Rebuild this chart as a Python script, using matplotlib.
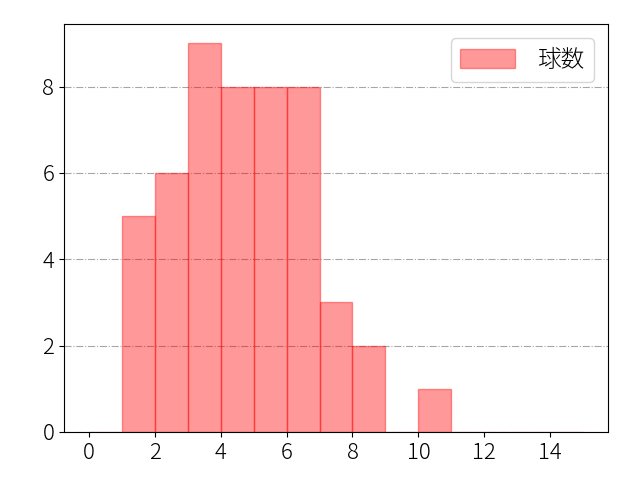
import matplotlib
matplotlib.use("Agg")
import matplotlib.pyplot as plt

plt.rcParams['font.family'] = ['Noto Sans CJK JP', 'DejaVu Sans']
plt.rcParams['font.size'] = 16
plt.rcParams['font.weight'] = 'light'

# pitch counts per bin, bins of width 1 from 0 to 15
bin_edges = list(range(0, 16))
counts = [0, 5, 6, 9, 8, 8, 8, 3, 2, 0, 1, 0, 0, 0, 0]
bin_lefts = bin_edges[:-1]

fig, ax = plt.subplots(figsize=(6.4, 4.8), dpi=100)
fig.subplots_adjust(left=0.1, right=0.95, bottom=0.1, top=0.95)
ax.hist(bin_lefts, bins=bin_edges, weights=counts, color='red', alpha=0.4,
        edgecolor='red', linewidth=1, label='球数')
ax.grid(axis='y', linestyle='-.', color='gray', alpha=0.7)
ax.set_axisbelow(True)
ax.set_xticks([0, 2, 4, 6, 8, 10, 12, 14])
ax.tick_params(labelsize=16)
ax.legend(loc='upper right', fontsize=17, handlelength=2.3,
          handleheight=0.85, handletextpad=0.95, borderaxespad=0.6)
fig.savefig('out.png')
